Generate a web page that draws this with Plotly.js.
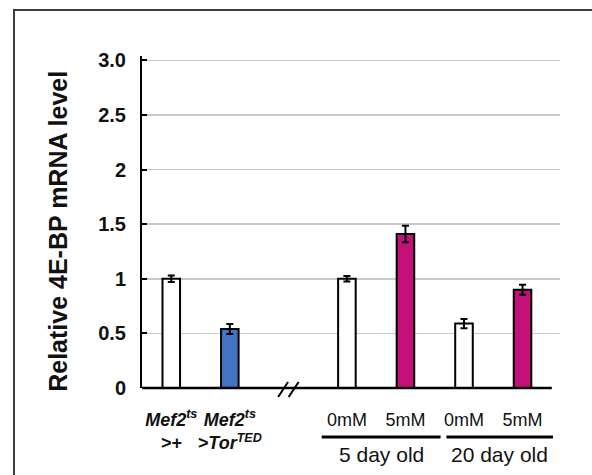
<!DOCTYPE html>
<html>
<head>
<meta charset="utf-8">
<script src="https://cdn.plot.ly/plotly-3.0.1.min.js"></script>
<style>
  html, body { margin: 0; padding: 0; background: #fff; overflow: hidden; }
  #wrap { position: relative; width: 592px; height: 475px; }
  #chart { position: absolute; left: 0; top: 0; width: 592px; height: 475px; }
  #frame { position: absolute; left: 13px; top: 9px; width: 700px; height: 600px;
           border: 2px solid #3c3c3c; pointer-events: none; }
</style>
</head>
<body>
<div id="wrap">
  <div id="chart"></div>
  <div id="frame"></div>
</div>
<script>
// ---- data ----
const categories = ["Mef2ts>+", "Mef2ts>TorTED", "break", "5d 0mM", "5d 5mM", "20d 0mM", "20d 5mM"];
const tickLabels = [
  "<b><i>Mef2<sup>ts</sup></i></b><br><b><i>&gt;+</i></b>",
  "<b><i>Mef2<sup>ts</sup></i></b><br><b><i>&gt;Tor<sup>TED</sup></i></b>",
  " ",
  "0mM", "5mM", "0mM", "5mM"
];
const barCategories = ["Mef2ts>+", "Mef2ts>TorTED", "5d 0mM", "5d 5mM", "20d 0mM", "20d 5mM"];
const values = [1.0, 0.54, 1.0, 1.41, 0.59, 0.9];
const errors = [0.03, 0.045, 0.025, 0.075, 0.042, 0.045];
const barColors = ["#ffffff", "#4472c4", "#ffffff", "#c4117a", "#ffffff", "#c4117a"];
const groupLabels = ["5 day old", "20 day old"];
const groupMembers = [["5d 0mM", "5d 5mM"], ["20d 0mM", "20d 5mM"]];
const yTickVals = [0, 0.5, 1, 1.5, 2, 2.5, 3];
const yTickText = ["0", "0.5", "1", "1.5", "2", "2.5", "3.0"];
const yTitle = "Relative 4E-BP mRNA level";
const breakCategory = "break";

// ---- layout helpers (styling / decoration positions) ----
const xRange = [-0.5, 6.64];
const yRange = [0, 3.04];
const xf = i => (i - xRange[0]) / (xRange[1] - xRange[0]);
const yf = v => (v - yRange[0]) / (yRange[1] - yRange[0]);
const idx = c => categories.indexOf(c);

const narrow = t => '<span style="font-family:\'Liberation Sans Narrow\', \'Liberation Sans\', Arial, sans-serif;font-size:18px;font-weight:normal;font-style:normal">' + t + '</span>';
const tickText = tickLabels.map((t, i) => (i >= 3 ? narrow(t) : t));

const shapes = [];
const annotations = [];

// x baseline (ends at last category edge)
shapes.push({type: 'line', xref: 'x domain', yref: 'y domain',
  x0: 0, x1: xf(categories.length - 0.5), y0: 0, y1: 0,
  line: {color: '#000', width: 2.5}});

// axis break marks "//"
const b = idx(breakCategory);
[-0.09, 0.09].forEach(dx => {
  shapes.push({type: 'line', xref: 'x domain', yref: 'y domain',
    x0: xf(b + dx - 0.085), x1: xf(b + dx + 0.085), y0: yf(-0.083), y1: yf(0.055),
    line: {color: '#000', width: 2}});
});

// group underline + group label
const spanPad = [[0.43, 0.6], [0.3, 0.52]];
groupMembers.forEach((g, k) => {
  const i0 = idx(g[0]), i1 = idx(g[g.length - 1]);
  shapes.push({type: 'line', xref: 'x domain', yref: 'y domain',
    x0: xf(i0 - spanPad[k][0]), x1: xf(i1 + spanPad[k][1]), y0: yf(-0.449), y1: yf(-0.449),
    line: {color: '#000', width: 3}});
  annotations.push({xref: 'x domain', yref: 'y domain',
    x: xf((i0 - spanPad[k][0] + i1 + spanPad[k][1]) / 2), y: yf(-0.61),
    text: groupLabels[k], showarrow: false, xanchor: 'center', yanchor: 'middle',
    font: {family: 'Liberation Sans, Arial, sans-serif', size: 21, color: '#111'}});
});

// y-axis title
annotations.push({xref: 'paper', yref: 'y domain', x: 0, y: yf(1.43), xshift: -84,
  text: '<b>' + yTitle + '</b>', textangle: -90, showarrow: false,
  xanchor: 'center', yanchor: 'middle',
  font: {family: 'Liberation Sans, Arial, sans-serif', size: 25, color: '#111'}});

const trace = {
  type: 'bar',
  x: barCategories,
  y: values,
  width: 0.3,
  marker: {color: barColors, line: {color: '#000', width: 2}},
  error_y: {type: 'data', array: errors, visible: true, color: '#000', thickness: 2, width: 3.5},
  hoverinfo: 'skip'
};

const layout = {
  width: 592, height: 475,
  margin: {l: 142, r: 32, t: 56, b: 87},
  paper_bgcolor: '#fff', plot_bgcolor: '#fff',
  showlegend: false,
  font: {family: 'Liberation Sans, Arial, sans-serif', color: '#111'},
  xaxis: {
    type: 'category', categoryorder: 'array', categoryarray: categories,
    range: xRange, tickmode: 'array', tickvals: categories, ticktext: tickText,
    tickangle: 0, automargin: false,
    ticks: '', showgrid: false, showline: false, zeroline: false,
    tickfont: {family: 'Liberation Sans, Arial, sans-serif', size: 18, color: '#111'},
    ticklabelstandoff: 19, fixedrange: true
  },
  yaxis: {
    range: yRange, tickmode: 'array', tickvals: yTickVals, ticktext: yTickText,
    ticks: 'inside', ticklen: 5, tickwidth: 2, tickcolor: '#000',
    showline: true, linecolor: '#000', linewidth: 2, automargin: false,
    showgrid: true, gridcolor: '#c8c8c8', gridwidth: 1.5, zeroline: false,
    tickfont: {family: 'Liberation Sans, Arial, sans-serif', size: 20, color: '#111', weight: 'bold'},
    ticklabelstandoff: 10,
    fixedrange: true
  },
  shapes: shapes,
  annotations: annotations
};

Plotly.newPlot('chart', [trace], layout, {displayModeBar: false, staticPlot: true});
</script>
</body>
</html>
